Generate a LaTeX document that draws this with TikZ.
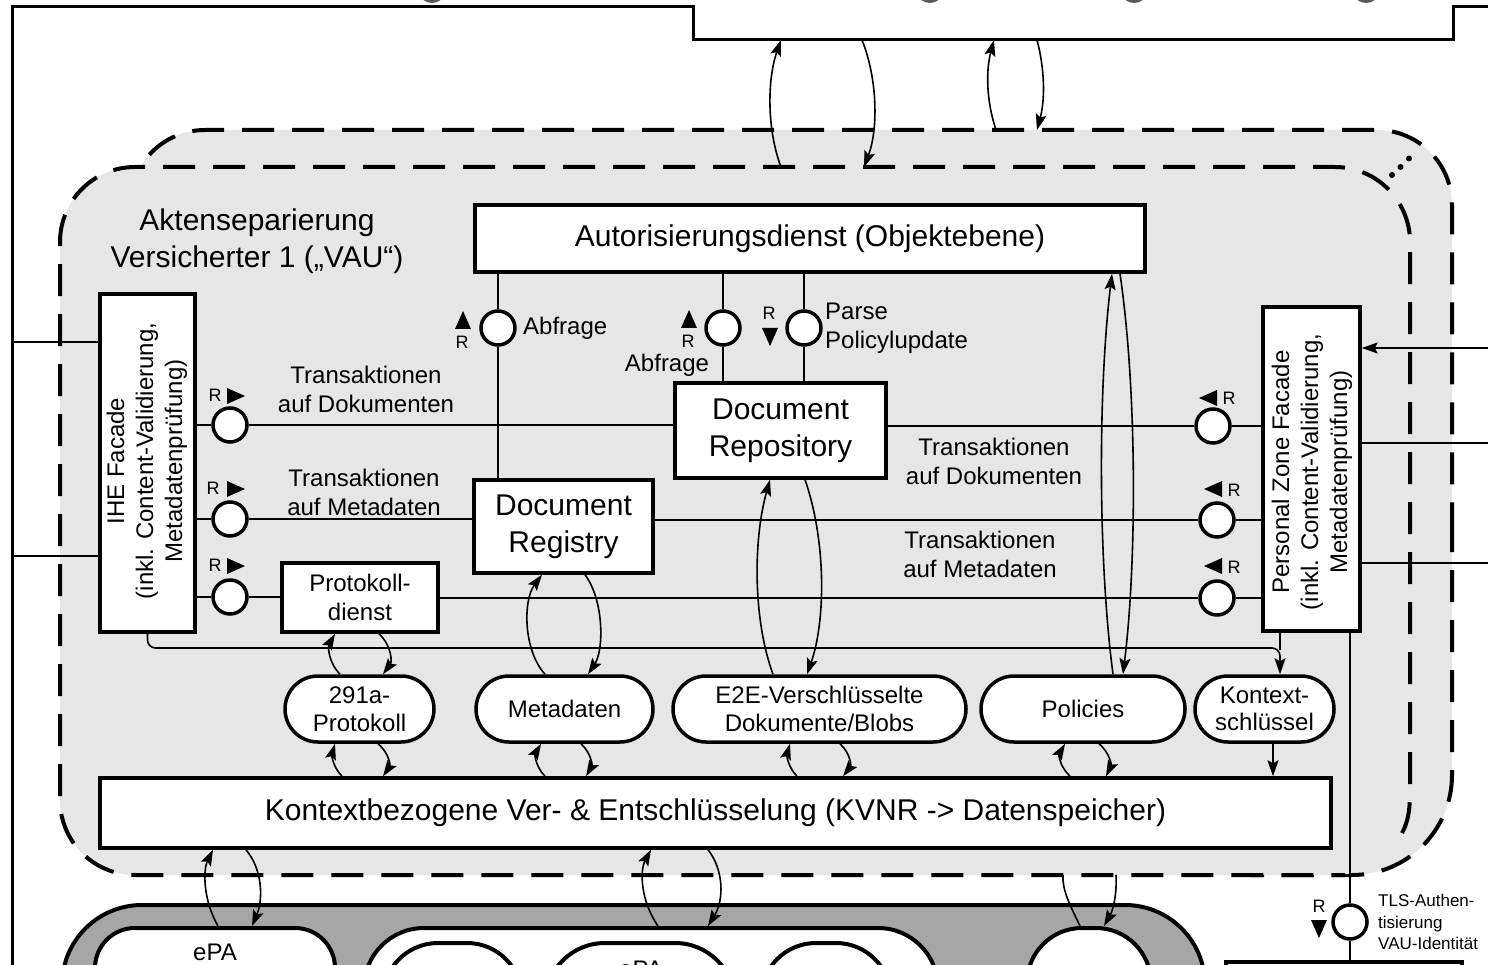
\documentclass[tikz,border=0pt]{standalone}
\usepackage{fontspec}
\setmainfont{Liberation Sans}
\usetikzlibrary{arrows.meta}
\definecolor{vaugray}{HTML}{E6E6E6}
\definecolor{botgray}{HTML}{A6A6A6}
\definecolor{blobgray}{HTML}{5A5A5A}
\newcommand{\FBig}{\fontsize{30pt}{37pt}\selectfont}
\newcommand{\FMid}{\fontsize{24pt}{29pt}\selectfont}
\newcommand{\FPill}{\fontsize{24pt}{27.5pt}\selectfont}
\newcommand{\FSmall}{\fontsize{17pt}{21.5pt}\selectfont}
\newcommand{\FR}{\fontsize{18pt}{20pt}\selectfont}
\begin{document}
\begin{tikzpicture}[x=1pt,y=-1pt,
  box/.style={draw,line width=3.5pt,fill=white,inner sep=0pt,align=center},
  pill/.style={box,rounded corners=33pt,minimum height=66pt,font=\FPill},
  bshape/.style={draw,line width=4pt,fill=white,inner sep=0pt},
  port/.style={circle,draw,line width=3.5pt,fill=white,minimum size=34pt,inner sep=0pt},
  conn/.style={line width=1.6pt},
  arr/.style={conn,-{Stealth[length=16pt,width=11pt,inset=3pt]}},
  dashv/.style={line width=4pt,dash pattern=on 32pt off 18pt},
  lbl/.style={inner sep=0pt,align=center},
  trir/.pic={\fill (-8,-8) -- (10,0) -- (-8,8) -- cycle;},
]
\useasboundingbox (0,0) rectangle (1488,965);
% outer frame with notch of the upper box
\draw[line width=3pt] (12,966) -- (12,7) -- (693,7) -- (693,40) -- (1453,40) -- (1453,7) -- (1490,7);
\coordinate (tb) at (1073,40);
\coordinate (frameL) at (12,0);
\coordinate (rim) at (1490,0);
% cut-off glyphs at top
\foreach \gx in {432,930,1134,1366}{\fill[blobgray] (\gx,-7) ellipse [x radius=12pt,y radius=10pt];}
% back VAU
\fill[vaugray,rounded corners=75pt] (130,875) -- (130,130) -- (1452,130) -- (1452,500);
\fill[vaugray,rounded corners=100pt] (1452,400) -- (1452,875) -- (130,875) -- (130,400) -- cycle;
\draw[dashv,rounded corners=75pt] (130,300) -- (130,130) -- (1452,130) -- (1452,520);
\draw[dashv,rounded corners=100pt] (1452,520) -- (1452,875) -- (1250,875);
% front VAU
\fill[vaugray,rounded corners=75pt] (60,167) rectangle (1410,875);
\draw[dashv] (1402,833) .. controls (1408,822) and (1410,810) .. (1410,792)
  [rounded corners=75pt] -- (1410,167) -- (60,167) -- (60,875) -- (1345,875);
\coordinate (v1top) at (700,167);
\coordinate (v2top) at (700,130);
\coordinate (v1bot) at (700,875);
\foreach \dx/\dy in {1392/175,1400.5/167,1409/158.5}{\fill (\dx,\dy) circle[radius=3pt];}

% nodes
\node[lbl,font=\FBig] (title) at (257,241) {Aktenseparierung\\Versicherter 1 („VAU“)};
\node[box,minimum width=670pt,minimum height=67pt,font=\FBig] (auth) at (810,238.5) {Autorisierungsdienst (Objektebene)};
\node[box,minimum width=95pt,minimum height=338pt] (ihe) at (147.5,463) {};
\node[lbl,rotate=90,font=\FMid] (ihetxt) at (147,461) {IHE Facade\\(inkl. Content-Validierung,\\Metadatenprüfung)};
\node[box,minimum width=97pt,minimum height=324pt] (pz) at (1311.5,469) {};
\node[lbl,rotate=90,font=\FMid] (pztxt) at (1312,472) {Personal Zone Facade\\(inkl. Content-Validierung,\\Metadatenprüfung)};
\node[box,minimum width=211pt,minimum height=95pt,font=\FBig] (repo) at (780.5,430.5) {Document\\Repository};
\node[box,minimum width=179pt,minimum height=93pt,font=\FBig] (reg) at (563.5,526.5) {Document\\Registry};
\node[box,minimum width=156pt,minimum height=69pt,font=\FMid] (prot) at (360,597.5) {Protokoll-\\dienst};
\node[pill,minimum width=149pt] (p291) at (359.5,709) {291a-\\Protokoll};
\node[pill,minimum width=177pt] (meta) at (564.5,709) {Metadaten};
\node[pill,minimum width=293pt] (e2e) at (819.5,709) {E2E-Verschlüsselte\\Dokumente/Blobs};
\node[pill,minimum width=204pt] (pol) at (1083,709) {Policies};
\node[pill,minimum width=139pt] (kschl) at (1264.5,709) {Kontext-\\schlüssel};
\node[box,minimum width=1231pt,minimum height=70pt,font=\FBig] (kvnr) at (715.5,813) {Kontextbezogene Ver- \& Entschlüsselung (KVNR -> Datenspeicher)};

% ports
\node[port] (ip1) at (230,425) {};
\node[port] (ip2) at (230,519) {};
\node[port] (ip3) at (230,597) {};
\node[port] (pp1) at (1213,426) {};
\node[port] (pp2) at (1217,520) {};
\node[port] (pp3) at (1217,598) {};
\node[port] (ap1) at (498,328) {};
\node[port] (ap2) at (723,328) {};
\node[port] (ap3) at (804,328) {};

% labels
\node[lbl,font=\FMid] (t1) at (366,389) {Transaktionen\\auf Dokumenten};
\node[lbl,font=\FMid] (t2) at (364,492) {Transaktionen\\auf Metadaten};
\node[lbl,font=\FMid] (t3) at (994,461) {Transaktionen\\auf Dokumenten};
\node[lbl,font=\FMid] (t4) at (980,554) {Transaktionen\\auf Metadaten};
\node[lbl,font=\FMid,anchor=west] (abf1) at (523,328) {Abfrage};
\node[lbl,font=\FMid] (abf2) at (667,365) {Abfrage};
\node[lbl,font=\FMid,anchor=west,align=left] (parse) at (825,328) {Parse\\Policylupdate};

% R markers
\node[lbl,font=\FR] (r1) at (215,395) {R}; \pic at (235,396) {trir};
\node[lbl,font=\FR] (r2) at (213,488) {R}; \pic at (235,489) {trir};
\node[lbl,font=\FR] (r3) at (215,565) {R}; \pic at (235,566) {trir};
\node[lbl,font=\FR] (r4) at (1229,398) {R}; \pic[rotate=180] at (1209,398) {trir};
\node[lbl,font=\FR] (r5) at (1234,490) {R}; \pic[rotate=180] at (1214,489) {trir};
\node[lbl,font=\FR] (r6) at (1234,567) {R}; \pic[rotate=180] at (1214,566) {trir};
\node[lbl,font=\FR] (r7) at (462,342) {R}; \pic[rotate=90] at (463,321) {trir};
\node[lbl,font=\FR] (r8) at (688,341) {R}; \pic[rotate=90] at (689,320) {trir};
\node[lbl,font=\FR] (r9) at (769,313) {R}; \pic[rotate=-90] at (770,336) {trir};

% bottom layer
\draw[line width=4pt,fill=botgray,rounded corners=80pt] (62,1100) -- (62,905) -- (1205,905) -- (1205,1100);
\node[bshape,rounded corners=40pt,minimum width=240pt,minimum height=110pt] (epa) at (215,983) {};
\node[lbl,font=\FMid] (epatxt) at (215,952) {ePA};
\node[bshape,rounded corners=60pt,minimum width=574pt,minimum height=130pt] (cont) at (651,993) {};
\node[bshape,rounded corners=55pt,minimum width=139pt,minimum height=130pt] (ib1) at (452.5,1008) {};
\node[bshape,rounded corners=60pt,minimum width=190pt,minimum height=130pt] (ib2) at (640,1008) {};
\node[lbl,font=\FMid] (ib2txt) at (641,969) {ePA};
\node[bshape,rounded corners=55pt,minimum width=130pt,minimum height=130pt] (ib3) at (826,1008) {};
\node[bshape,rounded corners=55pt,minimum width=124pt,minimum height=130pt] (bpill) at (1089,993) {};
\node[bshape,minimum width=236pt,minimum height=60pt] (lrbox) at (1344,992) {};
\node[port,minimum size=34pt] (tls) at (1350,922) {};
\node[lbl,font=\FR] (r10) at (1319,906) {R}; \pic[rotate=-90] at (1319,928) {trir};
\node[lbl,font=\FSmall,anchor=west,align=left] (tlslbl) at (1378,922) {TLS-Authen-\\tisierung\\VAU-Identität};

% horizontal rows
\draw[conn] (ihe.east |- ip1) -- (ip1.west);
\draw[conn] (ip1.east) -- (ip1 -| repo.west);
\draw[conn] (repo.east |- pp1) -- (pp1.west);
\draw[conn] (pp1.east) -- (pp1 -| pz.west);
\draw[conn] (ihe.east |- ip2) -- (ip2.west);
\draw[conn] (ip2.east) -- (ip2 -| reg.west);
\draw[conn] (reg.east |- pp2) -- (pp2.west);
\draw[conn] (pp2.east) -- (pp2 -| pz.west);
\draw[conn] (ihe.east |- ip3) -- (ip3.west);
\draw[conn] (ip3.east) -- (ip3 -| prot.west);
\draw[conn] (prot.east |- pp3) -- (pp3.west);
\draw[conn] (pp3.east) -- (pp3 -| pz.west);
% verticals from Autorisierungsdienst
\draw[conn] (ap1 |- auth.south) -- (ap1.north);
\draw[conn] (ap1.south) -- (ap1 |- reg.north);
\draw[conn] (ap2 |- auth.south) -- (ap2.north);
\draw[conn] (ap2.south) -- (ap2 |- repo.north);
\draw[conn] (ap3 |- auth.south) -- (ap3.north);
\draw[conn] (ap3.south) -- (ap3 |- repo.north);
% outside lines
\draw[conn] (frameL |- 0,342) -- (ihe.west |- 0,342);
\draw[conn] (frameL |- 0,556) -- (ihe.west |- 0,556);
\draw[arr] (rim |- 0,348) -- (pz.east |- 0,348);
\draw[conn] (pz.east |- 0,443) -- (rim |- 0,443);
\draw[conn] (pz.east |- 0,563) -- (rim |- 0,563);
% Kontextschluessel
\draw[arr,rounded corners=8pt] (ihe.south) -- (ihe.south |- 0,648) -| (1280,0 |- kschl.north);
\draw[conn] (1280,0 |- pz.south) -- (1280,650);
\draw[arr] (1273,0 |- kschl.south) -- (1273,0 |- kvnr.north);
\draw[conn] (1350,0 |- pz.south) -- (tls.north);
\draw[conn] (tls.south) -- (tls |- lrbox.north);
% top arrows
\draw[arr] (781,0 |- v1top) .. controls (767,130) and (767,80) .. (781,0 |- tb);
\draw[arr] (862,0 |- tb) .. controls (878,80) and (878,130) .. (864,0 |- v1top);
\draw[arr] (996,0 |- v2top) .. controls (986,100) and (986,70) .. (994,0 |- tb);
\draw[arr] (1037,0 |- tb) .. controls (1045,70) and (1045,100) .. (1037,0 |- v2top);
% lens arrows
\draw[arr] (1113,0 |- pol.north) .. controls (1098,560) and (1098,390) .. (1112,0 |- auth.south);
\draw[arr] (1120,0 |- auth.south) .. controls (1137,390) and (1137,560) .. (1123,0 |- pol.north);
\draw[arr] (773,0 |- e2e.north) .. controls (753,620) and (753,540) .. (770,0 |- repo.south);
\draw[arr] (805,0 |- repo.south) .. controls (826,540) and (826,620) .. (807,0 |- e2e.north);
\draw[arr] (545,0 |- meta.north) .. controls (523,650) and (523,600) .. (542,0 |- reg.south);
\draw[arr] (585,0 |- reg.south) .. controls (604,600) and (604,650) .. (588,0 |- meta.north);
\draw[arr] (340,0 |- p291.north) .. controls (328,662) and (328,646) .. (335,0 |- prot.south);
\draw[arr] (379,0 |- prot.south) .. controls (392,646) and (392,662) .. (383,0 |- p291.north);
% pills <-> kvnr
\draw[arr] (342,0 |- kvnr.north) .. controls (332,766) and (332,754) .. (335,0 |- p291.south);
\draw[arr] (378,0 |- p291.south) .. controls (390,754) and (390,766) .. (383,0 |- kvnr.north);
\draw[arr] (545,0 |- kvnr.north) .. controls (535,766) and (535,754) .. (541,0 |- meta.south);
\draw[arr] (581,0 |- meta.south) .. controls (592,754) and (592,766) .. (586,0 |- kvnr.north);
\draw[arr] (797,0 |- kvnr.north) .. controls (787,766) and (787,754) .. (790,0 |- e2e.south);
\draw[arr] (840,0 |- e2e.south) .. controls (851,754) and (851,766) .. (843,0 |- kvnr.north);
\draw[arr] (1070,0 |- kvnr.north) .. controls (1059,766) and (1059,754) .. (1065,0 |- pol.south);
\draw[arr] (1099,0 |- pol.south) .. controls (1111,754) and (1111,766) .. (1106,0 |- kvnr.north);
% kvnr <-> bottom
\draw[arr] (218,0 |- epa.north) .. controls (203,900) and (203,870) .. (213,0 |- kvnr.south);
\draw[arr] (246,0 |- kvnr.south) .. controls (263,870) and (263,900) .. (252,0 |- epa.north);
\draw[arr] (658,0 |- cont.north) .. controls (640,900) and (640,870) .. (651,0 |- kvnr.south);
\draw[arr] (708,0 |- kvnr.south) .. controls (724,870) and (724,900) .. (708,0 |- cont.north);
\draw[conn] (1080,0 |- bpill.north) .. controls (1070,905) and (1062,890) .. (1063,0 |- v1bot);
\draw[arr] (1116,0 |- v1bot) .. controls (1117,895) and (1113,910) .. (1104,0 |- bpill.north);
\end{tikzpicture}
\end{document}
